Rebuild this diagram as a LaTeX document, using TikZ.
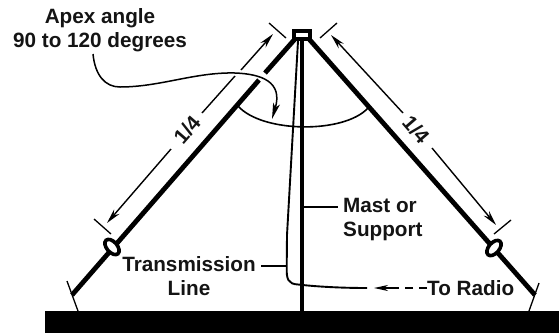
\documentclass[tikz,border=0pt]{standalone}
\usepackage{fontspec}
\setmainfont{Liberation Sans}
\usetikzlibrary{arrows.meta,calc,shapes.geometric}
\tikzset{
 lab/.style={font=\fontsize{20.7}{24}\selectfont\bfseries,text=black!92,inner sep=0pt,align=center},
 elem/.style={line width=4.8pt,black},
 thin line/.style={line width=1.3pt,black},
 dim/.style={line width=1.4pt,black},
 head/.style={-{Stealth[length=15pt,width=7pt,inset=5pt]}},
 loopnode/.style={draw,black,fill=white,line width=3.6pt,ellipse,minimum width=18pt,minimum height=10.5pt,inner sep=0pt},
}
\begin{document}
\begin{tikzpicture}[x=1pt,y=-1pt]
\useasboundingbox (0,0) rectangle (559,333);
% ground and mast
\node[fill=black,minimum width=514pt,minimum height=22pt,inner sep=0pt,anchor=north west] (ground) at (45,311) {};
\node[draw=black,fill=white,line width=4pt,minimum width=16pt,minimum height=8pt,inner sep=0pt] (apex) at (302,35) {};
\coordinate (mastfoot) at (302,311);
\draw[line width=4.2pt] (apex.south |- 302,37) -- (mastfoot);
% elements
\coordinate (LT) at (295,39);
\coordinate (LB) at (72,295);
\coordinate (RT) at (309,39);
\coordinate (RB) at (535,295);
\coordinate (LG1) at (265,73);
\coordinate (LG2) at (259,80);
\draw[elem] (LT) -- (LG1);
\draw[elem] (LG2) -- (LB);
\draw[elem] (RT) -- (RB);
\node[loopnode,rotate=-49] (loopL) at (112,247) {};
\node[loopnode,rotate=49] (loopR) at (494,248) {};
% end insulators
\draw[thin line] (67,281) -- (78,311);
\draw[thin line] (539,283) -- (529,311);
% dimension ticks
\draw[thin line] (269,23) -- (286,38);
\draw[thin line] (337,23) -- (320,38);
\draw[thin line] (94,219) -- (111,234);
\draw[thin line] (511,220) -- (494,234);
% labels 1/4
\node[lab,rotate=49] (qL) at (187,130) {1/4};
\node[lab,rotate=-49] (qR) at (416,130) {1/4};
% dimension arrows
\draw[dim] (202,113) -- (235,76);
\draw[dim,head] (241,70) -- (273,34);
\draw[dim,head] (171,149) -- (107,223);
\draw[dim,head] (403,113) -- (331,35);
\draw[dim,head] (432,148) -- (496,225);
% apex arc
\draw[line width=1.6pt] (238,106) .. controls (262,133) and (344,134) .. (368,108);
% transmission line
\draw[line width=1.9pt] (298,41) -- (287,235) -- (286.7,268) .. controls (286.5,279) and (288,284) .. (298,284.5) .. controls (320,287) and (345,288) .. (367,288);
% text labels
\node[lab] (apexlab) at (100,30) {Apex angle\\90 to 120 degrees};
\node[lab] (tl) at (189,276) {Transmission\\Line};
\node[lab,align=left,anchor=west] (mast) at (343,220) {Mast or\\Support};
\node[lab,anchor=west] (radio) at (427,288) {To Radio};
% leaders
\draw[thin line] (261,266) -- (287,266);
\draw[thin line] (304,207) -- (338,207);
\draw[line width=1.4pt,dash pattern=on 8pt off 6pt] (radio.west) -- (390,288);
\draw[dim,-{Stealth[length=14pt,width=6pt,inset=4pt]}] (391,288) -- (374,288);
% apex angle callout
\draw[line width=1.5pt,-{Stealth[length=16pt,width=7pt,inset=4pt]}] (93,54) .. controls (95,75) and (105,87) .. (120,87) .. controls (160,87) and (195,72) .. (235,73) .. controls (262,74) and (283,82) .. (272,119);
\end{tikzpicture}
\end{document}
